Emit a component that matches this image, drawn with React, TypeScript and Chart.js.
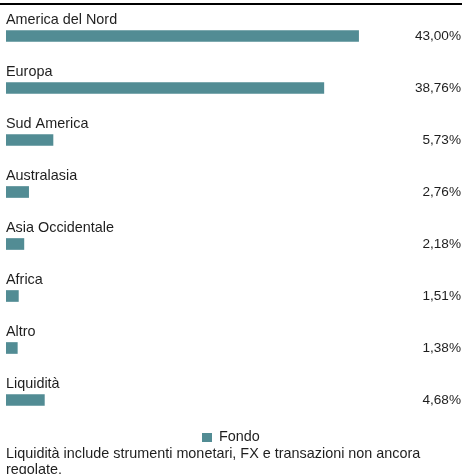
import React, { useEffect, useRef } from "react";
import { Chart, registerables } from "chart.js";

Chart.register(...registerables);

const categories = [
  "America del Nord",
  "Europa",
  "Sud America",
  "Australasia",
  "Asia Occidentale",
  "Africa",
  "Altro",
  "Liquidità",
];
const fondoValues = [43.0, 38.76, 5.73, 2.76, 2.18, 1.51, 1.38, 4.68];
const valueLabels = ["43,00%", "38,76%", "5,73%", "2,76%", "2,18%", "1,51%", "1,38%", "4,68%"];
const seriesName = "Fondo";
const footnote = "Liquidità include strumenti monetari, FX e transazioni non ancora regolate.";

const BAR_COLOR = "#528c94";
const TEXT_COLOR = "#1e1e1e";
const FONT = "'Liberation Sans', Arial, Helvetica, sans-serif";

const labelsPlugin = {
  id: "rowLabels",
  afterDatasetsDraw(chart: any) {
    const ctx = chart.ctx;
    const meta = chart.getDatasetMeta(0);
    ctx.save();
    // top rule
    ctx.fillStyle = "#000";
    ctx.fillRect(0, 3, chart.width, 2);
    ctx.fillStyle = TEXT_COLOR;
    meta.data.forEach((bar: any, i: number) => {
      const y = bar.y;
      ctx.font = `14.4px ${FONT}`;
      ctx.textAlign = "left";
      ctx.textBaseline = "alphabetic";
      ctx.fillText(String(chart.data.labels[i]), chart.chartArea.left, y - 12);
      ctx.font = `13.6px ${FONT}`;
      ctx.textAlign = "right";
      ctx.textBaseline = "middle";
      ctx.fillText(valueLabels[i], chart.width - 1, y);
    });
    // legend
    const ds = chart.data.datasets[0];
    const text = String(ds.label);
    ctx.font = `14.4px ${FONT}`;
    const lx = 202;
    ctx.fillStyle = BAR_COLOR;
    ctx.fillRect(lx, 433, 10, 9);
    ctx.fillStyle = TEXT_COLOR;
    ctx.textAlign = "left";
    ctx.textBaseline = "alphabetic";
    ctx.fillText(text, lx + 17, 441);
    ctx.restore();
  },
};

export default function App() {
  const ref = useRef<HTMLCanvasElement>(null);
  useEffect(() => {
    if (!ref.current) return;
    const chart = new Chart(ref.current, {
      type: "bar",
      data: {
        labels: categories,
        datasets: [
          {
            label: seriesName,
            data: fondoValues,
            backgroundColor: BAR_COLOR,
            barThickness: 11,
            borderWidth: 0,
          },
        ],
      },
      options: {
        indexAxis: "y",
        animation: false,
        responsive: false,
        maintainAspectRatio: false,
        layout: { padding: { left: 6, right: 46, top: 10, bottom: 22 } },
        scales: {
          x: { display: false, min: 0, max: 50 },
          y: { display: false, grid: { display: false } },
        },
        plugins: {
          legend: { display: false },
          tooltip: { enabled: false },
        },
      },
      plugins: [labelsPlugin],
    });
    return () => chart.destroy();
  }, []);
  return (
    <div style={{ width: 462, fontFamily: FONT }}>
      <style>{`body{margin:0}`}</style>
      <canvas ref={ref} width={462} height={448} style={{ display: "block" }} />
      <div
        style={{
          fontSize: 14.4,
          lineHeight: "16px",
          color: TEXT_COLOR,
          padding: "0 6px",
          marginTop: -3,
        }}
      >
        {footnote}
      </div>
    </div>
  );
}
